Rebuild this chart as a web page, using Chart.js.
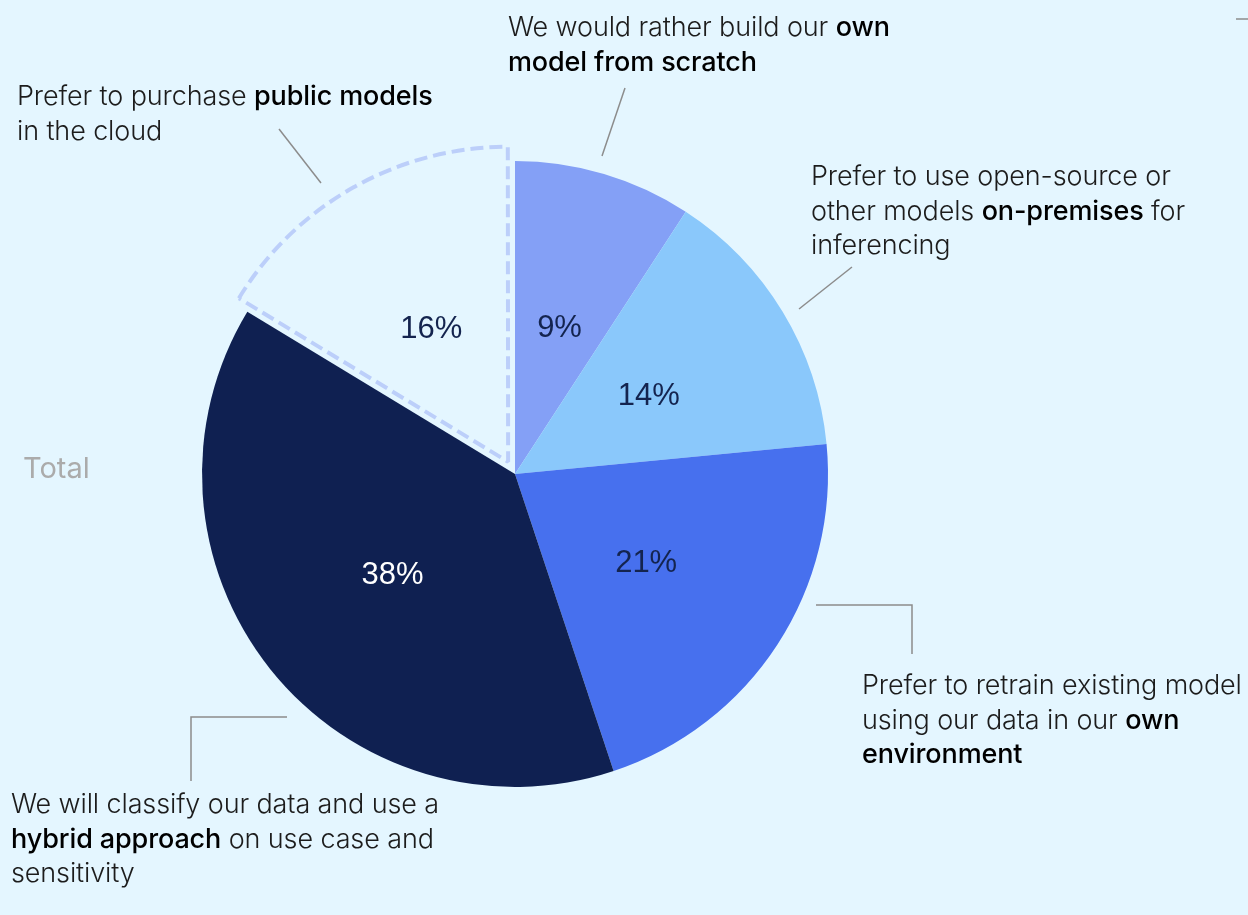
<!DOCTYPE html>
<html>
<head>
<meta charset="utf-8">
<script src="https://cdn.jsdelivr.net/npm/chart.js@4/dist/chart.umd.min.js"></script>
<style>
  html, body { margin: 0; padding: 0; }
  body { width: 1248px; height: 915px; background: #E4F6FF; position: relative; overflow: hidden; }
  #wrap { position: absolute; left: 0; top: 0; width: 1248px; height: 915px; }
  .note {
    position: absolute; font-family: Inter, "Noto Sans", sans-serif; font-size: 27px;
    line-height: 34.5px; color: #1c1c1c; white-space: nowrap; font-weight: 340;
    letter-spacing: -0.12px;
  }
  .note b { font-weight: 450; color: #000; }
  .total { position: absolute; left: 23px; top: 450px; font-family: Inter, sans-serif;
    font-size: 29px; color: #ababab; font-weight: 380; }
</style>
</head>
<body>
<div id="wrap"><canvas id="pieChart"></canvas></div>

<div class="note" style="left:17px; top:79px;">Prefer to purchase <b>public models</b><br>in the cloud</div>
<div class="note" style="left:508px; top:10px;">We would rather build our <b>own</b><br><b>model from scratch</b></div>
<div class="note" style="left:811px; top:159px;">Prefer to use open-source or<br>other models <b>on-premises</b> for<br>inferencing</div>
<div class="note" style="left:862px; top:668px;">Prefer to retrain existing model<br>using our data in our <b>own</b><br><b>environment</b></div>
<div class="note" style="left:11px; top:787px;">We will classify our data and use a<br><b>hybrid approach</b> on use case and<br>sensitivity</div>
<div class="total">Total</div>

<script>
// slices clockwise from 12 o'clock
const categories = [
    'Build own model from scratch',
    'Open-source / other models on-premises',
    'Retrain existing model in own environment',
    'Hybrid approach by use case and sensitivity',
    'Purchase public models in the cloud'
];
const shares = [9, 14, 21, 38, 16];

const sliceColors = ['#84A0F6', '#8AC8FB', '#4770EE', '#0F2051', 'rgba(0,0,0,0)'];
const labelColors = ['#14244F', '#14244F', '#14244F', '#FFFFFF', '#14244F'];

// leader lines from the notes to the pie
const leaders = [
    [[279, 129], [321, 183]],
    [[625, 88], [602, 156]],
    [[852, 267], [799, 309]],
    [[816, 605], [912, 605], [912, 654]],
    [[287, 717], [191, 717], [191, 781]],
    [[1236, 19], [1248, 19]]
];

const valueLabels = {
    id: 'valueLabels',
    afterDatasetsDraw(chart) {
        const ctx = chart.ctx;
        const meta = chart.getDatasetMeta(0);
        ctx.save();
        ctx.font = '31px "Liberation Sans", Arial, sans-serif';
        ctx.textAlign = 'center';
        ctx.textBaseline = 'middle';
        meta.data.forEach((arc, i) => {
            let { x, y } = arc.tooltipPosition();
            // tooltipPosition pushes out by offset/2, the slice itself only moves offset/4
            const off = (arc.options.offset || 0) / 4;
            const half = (arc.startAngle + arc.endAngle) / 2;
            x -= Math.cos(half) * off;
            y -= Math.sin(half) * off;
            ctx.fillStyle = labelColors[i];
            ctx.fillText(shares[i] + '%', x, y + 4);
        });
        ctx.restore();
    }
};

const leaderLines = {
    id: 'leaderLines',
    afterDraw(chart) {
        const ctx = chart.ctx;
        ctx.save();
        ctx.strokeStyle = '#8c8c8c';
        ctx.lineWidth = 1.5;
        leaders.forEach(pts => {
            ctx.beginPath();
            ctx.moveTo(pts[0][0], pts[0][1]);
            pts.slice(1).forEach(p => ctx.lineTo(p[0], p[1]));
            ctx.stroke();
        });
        ctx.restore();
    }
};

const ctx = document.getElementById('pieChart').getContext('2d');
const pieChart = new Chart(ctx, {
    type: 'pie',
    data: {
        labels: categories,
        datasets: [{
            data: shares,
            backgroundColor: sliceColors,
            borderColor: ['#E4F6FF', '#E4F6FF', '#E4F6FF', '#E4F6FF', '#BCCFFA'],
            borderWidth: [0, 0, 0, 0, 4],
            borderDash: [13, 6],
            offset: [0, 0, 0, 0, 56],
            radius: 313
        }]
    },
    options: {
        responsive: true,
        maintainAspectRatio: false,
        animation: false,
        layout: { padding: { left: 0, right: 218, top: 33, bottom: 0 } },
        plugins: {
            legend: { display: false },
            tooltip: { enabled: false }
        }
    },
    plugins: [valueLabels, leaderLines]
});
</script>
</body>
</html>
